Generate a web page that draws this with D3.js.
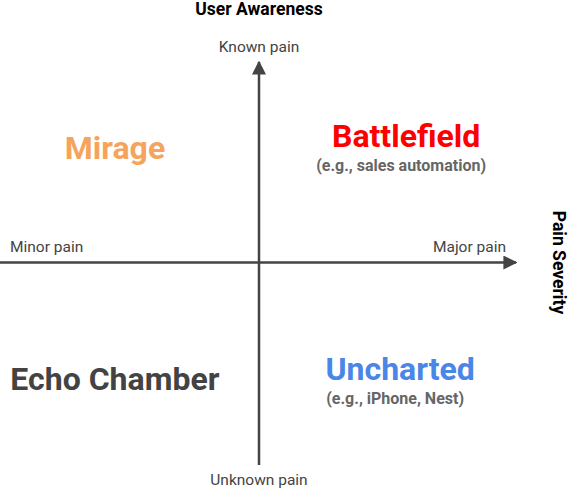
<!DOCTYPE html>
<html><head><meta charset="utf-8">
<script src="https://cdn.jsdelivr.net/npm/d3@7"></script>
<style>body{margin:0;background:#fff}text{font-family:Roboto,sans-serif}</style>
</head><body><svg id="c" width="568" height="489"></svg>
<script>
const quadrantNames = ["Mirage", "Battlefield", "Echo Chamber", "Uncharted"];
const quadrantSubtitles = ["", "(e.g., sales automation)", "", "(e.g., iPhone, Nest)"];
const quadrantX = [-0.556, 0.568, -0.96, 0.545];
const quadrantY = [0.51, 0.57, -0.63, -0.58];
const quadrantAnchor = ["middle", "middle", "start", "middle"];
const quadrantColors = ["#f6a45c", "#ff0000", "#434343", "#4a86e8"];
const axisEndLabels = ["Minor pain", "Major pain", "Known pain", "Unknown pain"];
const axisTitles = ["Pain Severity", "User Awareness"];

const svg = d3.select("#c");
const x = d3.scaleLinear().domain([-1, 1]).range([0, 518]);
const y = d3.scaleLinear().domain([-1, 1]).range([465, 60]);
const ink = "#444";

svg.append("defs").append("marker").attr("id","ah").attr("viewBox","0 0 10 10")
  .attr("refX",9).attr("refY",5).attr("markerWidth",14).attr("markerHeight",14)
  .attr("markerUnits","userSpaceOnUse").attr("orient","auto")
  .append("path").attr("d","M0,0L10,5L0,10z").attr("fill",ink);

svg.append("line").attr("x1",x(-1)).attr("x2",x(1)-2).attr("y1",y(0)).attr("y2",y(0))
  .attr("stroke",ink).attr("stroke-width",2.5).attr("marker-end","url(#ah)");
svg.append("line").attr("x1",x(0)).attr("x2",x(0)).attr("y1",y(-1)).attr("y2",y(1)+2)
  .attr("stroke",ink).attr("stroke-width",2.5).attr("marker-end","url(#ah)");

const small = (t, px, py, anchor) => svg.append("text").text(t).attr("x",px).attr("y",py)
  .attr("text-anchor",anchor).attr("font-size",15.5).attr("fill",ink);
small(axisEndLabels[0], x(-1)+10, y(0)-11, "start");
small(axisEndLabels[1], x(1)-12, y(0)-11, "end");
small(axisEndLabels[2], x(0), y(1)-8, "middle");
small(axisEndLabels[3], x(0), y(-1)+20, "middle");

svg.append("text").text(axisTitles[1]).attr("x",x(0)).attr("y",15).attr("text-anchor","middle")
  .attr("font-size",17.5).attr("font-weight","bold").attr("fill","#000");
svg.append("text").text(axisTitles[0]).attr("transform",`translate(553,${y(0)}) rotate(90)`)
  .attr("text-anchor","middle").attr("font-size",17.5).attr("font-weight","bold").attr("fill","#000");

quadrantNames.forEach((n,i)=>{
  svg.append("text").text(n).attr("x",x(quadrantX[i])).attr("y",y(quadrantY[i]))
    .attr("text-anchor",quadrantAnchor[i]).attr("font-size",32).attr("font-weight","bold")
    .attr("fill",quadrantColors[i]);
  if (quadrantSubtitles[i]) svg.append("text").text(quadrantSubtitles[i])
    .attr("x",x(quadrantX[i])-5).attr("y",y(quadrantY[i])+24).attr("text-anchor","middle")
    .attr("font-size",16).attr("font-weight","bold").attr("fill","#666");
});
</script></body></html>
